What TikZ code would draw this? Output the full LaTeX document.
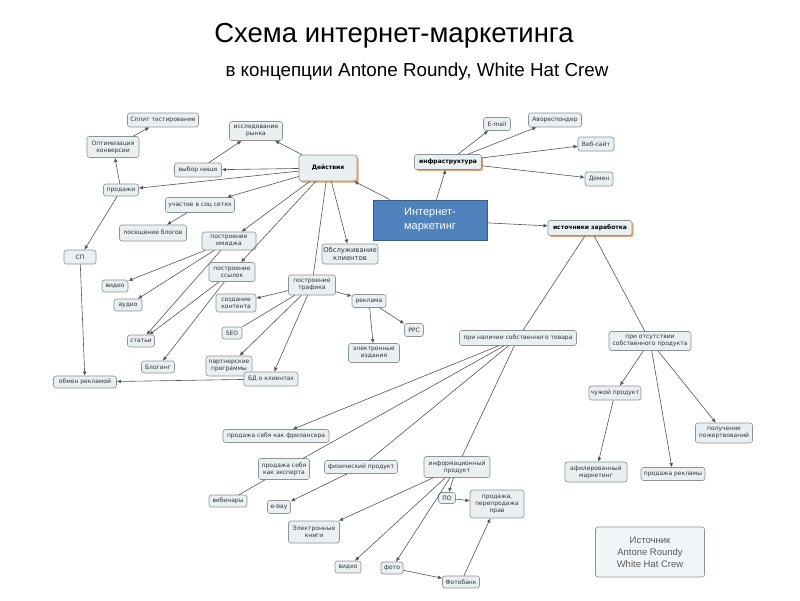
\documentclass[tikz,border=0pt]{standalone}
\usepackage{fontspec}
\setmainfont{Liberation Sans}
\newfontfamily\dv{DejaVu Sans}
\usetikzlibrary{arrows.meta,shadows}
\definecolor{boxfill}{HTML}{EAEFF2}
\definecolor{boxdraw}{HTML}{8E9396}
\definecolor{txt}{HTML}{333333}
\definecolor{edgec}{HTML}{555555}
\definecolor{shad}{HTML}{F2A35A}
\definecolor{blue1}{HTML}{4F81BD}
\definecolor{blue2}{HTML}{385D8A}
\begin{document}
\begin{tikzpicture}[x=1pt,y=-1pt,
  box/.style={draw=boxdraw, fill=boxfill, rounded corners=2.5pt, line width=0.6pt,
    font=\dv\fontsize{6}{7}\selectfont, text=txt, align=center, inner sep=1pt},
  mainbox/.style={box, font=\dv\bfseries\fontsize{6}{7}\selectfont, text=black,
    drop shadow={shadow xshift=1.6pt, shadow yshift=-1.6pt, fill=shad, opacity=1}},
  sz/.style 2 args={minimum width=#1pt, minimum height=#2pt},
  ln/.style={draw=edgec, line width=0.6pt},
  ar/.style={ln, -{Latex[length=4.2pt,width=3.8pt]}}
]
\useasboundingbox[fill=white] (0,0) rectangle (800,600);

% titles
\node[font=\fontsize{27.5}{32}\selectfont] (title) at (394,36) {Схема интернет-маркетинга};
\node[font=\fontsize{18.8}{22}\selectfont] (subtitle) at (417,72) {в концепции Antone Roundy, White Hat Crew};

% central
\node[draw=blue2, fill=blue1, line width=1pt, sz={114}{40}, text=white,
  font=\fontsize{11}{14}\selectfont, align=center] (inet) at (430,220) {Интернет-\\маркетинг};

% main nodes
\node[mainbox, sz={58}{26}] (deyst) at (328,168) {Действия};
\node[mainbox, sz={67}{15}] (infra) at (448,162) {инфраструктура};
\node[mainbox, sz={84}{15}] (ist) at (590,228) {источники заработка};

% left cluster
\node[box, sz={71}{14}] (split) at (163,120) {Сплит тестирование};
\node[box, sz={52}{21}] (optim) at (113,147) {Оптимизация\\конверсии};
\node[box, sz={53}{19}] (issl) at (256,131) {исследование\\рынка};
\node[box, sz={47}{14}] (vybor) at (198,170) {выбор ниши};
\node[box, sz={35}{12}] (prod) at (121,190) {продажи};
\node[box, sz={69}{15}] (soc) at (200,205) {участие в соц сетях};
\node[box, sz={67}{16}] (blog) at (153,233) {посещение блогов};
\node[box, sz={54}{18}] (imid) at (229,241) {построение\\имиджа};
\node[box, sz={32}{14}] (sp) at (80,257) {СП};
\node[box, sz={46}{19}] (ssyl) at (232,272) {построение\\ссылок};
\node[box, sz={26}{12}] (video1) at (115,286) {видео};
\node[box, sz={28}{12}] (audio) at (128,305) {аудио};
\node[box, sz={40}{18}] (sozd) at (236,303) {создание\\контента};
\node[box, sz={47}{20}] (traf) at (312,285) {построение\\трафика};
\node[box, sz={34}{13}] (rekl) at (369,301) {реклама};
\node[box, sz={56}{20}, font=\dv\fontsize{6.8}{8}\selectfont] (obsl) at (350,254) {Обслуживание\\клиентов};
\node[box, sz={20}{12}] (seo) at (232,333) {SEO};
\node[box, sz={19}{13}] (ppc) at (414,330) {PPC};
\node[box, sz={27}{12}] (stat) at (141,341) {статьи};
\node[box, sz={51}{19}] (elizd) at (374,353) {электронные\\издания};
\node[box, sz={33}{12}] (bloging) at (158,367) {Блогинг};
\node[box, sz={46}{20}] (partn) at (229,366) {партнерские\\программы};
\node[box, sz={54}{14}] (bd) at (271,379) {БД о клиентах};
\node[box, sz={63}{12}] (obmen) at (85,382) {обмен рекламой};

% infrastructure
\node[box, sz={27}{13}] (email) at (497,124) {E-mail};
\node[box, sz={53}{14}] (avo) at (555,120) {Авореспондер};
\node[box, sz={36}{14}] (web) at (596,144) {Веб-сайт};
\node[box, sz={28}{14}] (domen) at (599,179) {Домен};

% earnings
\node[box, sz={117}{15}] (nal) at (518,338) {при наличии собственного товара};
\node[box, sz={82}{19}] (ots) at (650,341) {при отсутствии\\собственного продукта};
\node[box, sz={52}{14}] (chuz) at (615,393) {чужой продукт};
\node[box, sz={57}{20}] (pozh) at (724,433) {получение\\пожертвований};
\node[box, sz={62}{20}] (afil) at (596,472) {афилированный\\маркетинг};
\node[box, sz={64}{13}] (prrekl) at (673,474) {продажа рекламы};
\node[box, sz={106}{13}] (fril) at (276,436) {продажа себя как фрилансера};
\node[box, sz={51}{21}] (eksp) at (284,469) {продажа себя\\как эксперта};
\node[box, sz={73}{13}] (fiz) at (361,467) {физический продукт};
\node[box, sz={66}{21}] (info) at (457,467) {информационный\\продукт};
\node[box, sz={38}{12}] (vebin) at (228,501) {вебинары};
\node[box, sz={23}{13}] (ebay) at (279,507) {e-bay};
\node[box, sz={17}{11}] (po) at (447,498) {ПО};
\node[box, sz={54}{28}] (prav) at (497,504) {продажа,\\перепродажа\\прав};
\node[box, sz={51}{22}] (ekn) at (314,532) {Электронные\\книги};
\node[box, sz={26}{12}] (video2) at (348,567) {видео};
\node[box, sz={22}{12}] (foto) at (392,568) {фото};
\node[box, sz={37}{12}] (fotob) at (461,582) {Фотобанк};

% source
\node[box, fill=boxfill!60, sz={109}{50}, font=\fontsize{9.5}{12}\selectfont, text=black!65] (source) at (650,552) {Источник\\Antone Roundy\\White Hat Crew};

% connectors
\draw[ar] (inet) -- (deyst);
\draw[ar] (inet) -- (infra);
\draw[ar] (inet) -- (ist);

\draw[ar] (deyst) -- (issl);
\draw[ar] (deyst) -- (vybor);
\draw[ar] (deyst) -- (prod);
\draw[ar] (deyst) -- (soc);
\draw[ar] (deyst) -- (imid);
\draw[ar] (deyst) -- (ssyl);
\draw[ar] (deyst) -- (obsl);
\draw[ln] (deyst) -- (traf);

\draw[ar] (vybor) -- (issl);
\draw[ar] (prod) -- (optim);
\draw[ar] (optim) -- (split);
\draw[ar] (prod) -- (sp);
\draw[ar] (sp) -- (obmen);
\draw[ar] (soc) -- (blog);
\draw[ar] (imid) -- (video1);
\draw[ar] (imid) -- (audio);
\draw[ar] (imid) -- (stat);
\draw[ar] (ssyl) -- (stat);
\draw[ar] (ssyl) -- (bloging);
\draw[ar] (traf) -- (sozd);
\draw[ln] (traf) -- (seo);
\draw[ar] (traf) -- (partn);
\draw[ar] (traf) -- (bd);
\draw[ar] (traf) -- (rekl);
\draw[ar] (rekl) -- (ppc);
\draw[ar] (rekl) -- (elizd);
\draw[ar] (bd) -- (obmen);

\draw[ar] (infra) -- (email);
\draw[ar] (infra) -- (avo);
\draw[ar] (infra) -- (web);
\draw[ar] (infra) -- (domen);

\draw[ln] (ist) -- (nal);
\draw[ln] (ist) -- (ots);
\draw[ar] (nal) -- (fril);
\draw[ln] (nal) -- (eksp);
\draw[ln] (nal) -- (fiz);
\draw[ln] (nal) -- (info);
\draw[ln] (eksp) -- (vebin);
\draw[ar] (fiz) -- (ebay);
\draw[ar] (info) -- (po);
\draw[ar] (info) -- (ekn);
\draw[ar] (info) -- (video2);
\draw[ar] (info) -- (foto);
\draw[ar] (po) -- (prav);
\draw[ar] (foto) -- (fotob);
\draw[ar] (fotob) -- (prav);
\draw[ar] (ots) -- (chuz);
\draw[ar] (ots) -- (prrekl);
\draw[ar] (ots) -- (pozh);
\draw[ar] (chuz) -- (afil);
\end{tikzpicture}
\end{document}
